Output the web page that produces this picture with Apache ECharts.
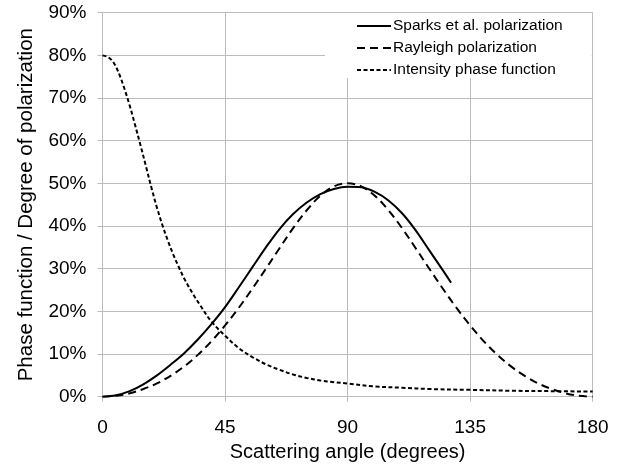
<!DOCTYPE html>
<html>
<head>
<meta charset="utf-8">
<script src="https://cdn.jsdelivr.net/npm/echarts@6/dist/echarts.min.js"></script>
<style>
html,body{margin:0;padding:0;background:#fff;}
#chart{width:634px;height:471px;}
</style>
</head>
<body>
<div id="chart"></div>
<script>
// Scattering angle ticks
var xTicks = [0, 45, 90, 135, 180];
var yTicks = [0, 10, 20, 30, 40, 50, 60, 70, 80, 90];

// Sparks et al. polarization (%)
var sparksAngles = [0, 5, 10, 15, 20, 25, 30, 35, 40, 45, 50, 55, 60, 65, 70, 75, 80, 85, 90, 95, 100, 105, 110, 115, 120, 125, 128];
var sparksValues = [0, 0.35, 1.3, 2.9, 5.0, 7.5, 10.2, 13.4, 17.0, 21.0, 25.6, 30.3, 35.0, 39.3, 42.8, 45.5, 47.5, 48.7, 49.2, 49.1, 48.0, 46.0, 43.0, 39.0, 34.3, 29.6, 26.7];

// Rayleigh polarization (%)
var rayleighAngles = [0, 5, 10, 15, 20, 25, 30, 35, 40, 45, 50, 55, 60, 65, 70, 75, 80, 85, 90, 95, 100, 105, 110, 115, 120, 125, 130, 135, 140, 145, 150, 155, 160, 165, 170, 175, 180];
var rayleighValues = [0, 0.2, 0.8, 1.8, 3.1, 4.9, 7.1, 9.8, 13.0, 16.7, 20.8, 25.3, 30.0, 34.8, 39.5, 43.7, 47.1, 49.3, 50.0, 49.3, 47.1, 43.7, 39.5, 34.8, 30.0, 25.3, 20.8, 16.7, 13.0, 9.8, 7.1, 4.9, 3.1, 1.8, 0.8, 0.2, 0];

// Intensity phase function (%)
var intensityAngles = [0, 2, 4, 6, 8, 10, 12, 14, 16, 18, 20, 22, 24, 26, 28, 30, 33, 36, 40, 45, 50, 55, 60, 65, 70, 75, 80, 85, 90, 100, 110, 120, 135, 150, 165, 180];
var intensityValues = [80, 79.6, 78.4, 75.8, 72.3, 68.2, 63.6, 58.8, 53.9, 48.9, 44.3, 40.2, 36.6, 33.3, 30.4, 27.7, 24.3, 21.3, 17.6, 14.3, 11.4, 9.3, 7.6, 6.3, 5.2, 4.4, 3.8, 3.4, 3.1, 2.4, 2.1, 1.8, 1.6, 1.4, 1.3, 1.2];

var seriesNames = ['Sparks et al. polarization', 'Rayleigh polarization', 'Intensity phase function'];

function zip(a, b) { return a.map(function (v, i) { return [v, b[i]]; }); }

var FONT = 'Liberation Sans, Arial, Helvetica, sans-serif';
var GRID = '#bcbcbc';

var chart = echarts.init(document.getElementById('chart'), null, {renderer: 'canvas'});
chart.setOption({
  animation: false,
  backgroundColor: '#fff',
  textStyle: {fontFamily: FONT},
  grid: {left: 102.5, right: 41.3, top: 12.7, bottom: 74.3, containLabel: false},
  legend: {
    orient: 'vertical',
    left: 325,
    top: 13,
    padding: [5, 29, 0, 31],
    backgroundColor: '#fff',
    itemWidth: 34,
    itemHeight: 14,
    itemGap: 6,
    data: seriesNames,
    itemStyle: {opacity: 0},
    textStyle: {fontSize: 15.5, color: '#000', fontFamily: FONT, padding: [0, 0, 0, -3]}
  },
  xAxis: {
    type: 'value',
    min: xTicks[0],
    max: xTicks[xTicks.length - 1],
    interval: 45,
    name: 'Scattering angle (degrees)',
    nameLocation: 'middle',
    nameGap: 46,
    nameTextStyle: {fontSize: 20, color: '#000', fontFamily: FONT},
    axisLine: {show: true, lineStyle: {color: GRID, width: 1}},
    axisTick: {show: true, length: 5, lineStyle: {color: GRID}},
    axisLabel: {fontSize: 19, color: '#000', margin: 22, fontFamily: FONT},
    splitLine: {show: true, lineStyle: {color: GRID, width: 1}}
  },
  yAxis: {
    type: 'value',
    min: yTicks[0],
    max: yTicks[yTicks.length - 1],
    interval: 10,
    name: 'Phase function / Degree of polarization',
    nameLocation: 'middle',
    nameGap: 66,
    nameTextStyle: {fontSize: 20.5, color: '#000', fontFamily: FONT},
    axisLine: {show: true, lineStyle: {color: GRID, width: 1}},
    axisTick: {show: true, length: 5, lineStyle: {color: GRID}},
    axisLabel: {fontSize: 19, color: '#000', margin: 16, formatter: '{value}%', fontFamily: FONT},
    splitLine: {show: true, lineStyle: {color: GRID, width: 1}}
  },
  series: [
    {
      name: seriesNames[0], type: 'line', data: zip(sparksAngles, sparksValues),
      smooth: 0.35, symbol: 'none', showSymbol: false,
      lineStyle: {color: '#000', width: 2, type: 'solid'},
      itemStyle: {color: '#000'}
    },
    {
      name: seriesNames[1], type: 'line', data: zip(rayleighAngles, rayleighValues),
      smooth: 0.35, symbol: 'none', showSymbol: false,
      lineStyle: {color: '#000', width: 2, type: [8, 5]},
      itemStyle: {color: '#000'}
    },
    {
      name: seriesNames[2], type: 'line', data: zip(intensityAngles, intensityValues),
      smooth: 0.35, symbol: 'none', showSymbol: false,
      lineStyle: {color: '#000', width: 2, type: [4, 2.5]},
      itemStyle: {color: '#000'}
    }
  ]
});
</script>
</body>
</html>
